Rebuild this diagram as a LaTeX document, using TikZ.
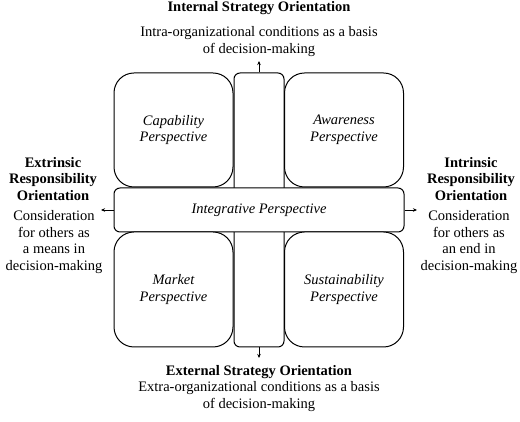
\documentclass[tikz,border=0pt]{standalone}
\usepackage{fontspec}
\setmainfont{Liberation Serif}
\usetikzlibrary{arrows.meta, positioning}

\begin{document}
\begin{tikzpicture}[x=1pt, y=1pt,
    every node/.style={font=\fontsize{14.5}{16.5}\selectfont, align=center, inner sep=0pt},
    persp/.style={draw, line width=1pt, fill=white, rounded corners=20pt, minimum width=119pt, font=\fontsize{14.5}{16.5}\selectfont\itshape},
    bar/.style={draw, line width=1pt, fill=white, rounded corners=6pt},
    orient/.style={font=\fontsize{14.5}{16.5}\selectfont\bfseries},
    outarrow/.style={-{Stealth[length=4pt, width=3.5pt]}, line width=0.8pt}]
\useasboundingbox (0,0) rectangle (520,422);

\node (vbar) [bar, minimum width=50pt, minimum height=274pt] at (259,212) {};
\node (hbar) [bar, minimum width=290pt, minimum height=44pt, font=\fontsize{14.5}{16.5}\selectfont\itshape] at (259,212) {Integrative Perspective};

\node (cap) [persp, minimum height=114pt] at (173.5,292) {Capability\\Perspective};
\node (awa) [persp, minimum height=114pt] at (344,292) {Awareness\\Perspective};
\node (mar) [persp, minimum height=115pt] at (173.5,132.5) {Market\\Perspective};
\node (sus) [persp, minimum height=115pt] at (344,132.5) {Sustainability\\Perspective};

\coordinate (up) at (259,361);
\coordinate (down) at (259,64);
\coordinate (left) at (101,212);
\coordinate (right) at (417,212);
\draw [outarrow] (vbar.north) -- (up);
\draw [outarrow] (vbar.south) -- (down);
\draw [outarrow] (hbar.west) -- (left);
\draw [outarrow] (hbar.east) -- (right);

\node (intT) [orient] at (259,414) {Internal Strategy Orientation};
\node (intS) [font=\fontsize{14.5}{17}\selectfont] at (259,380) {Intra-organizational conditions as a basis\\of decision-making};
\node (extT) [orient] at (259,50) {External Strategy Orientation};
\node (extS) [font=\fontsize{14.5}{17}\selectfont] at (259,25) {Extra-organizational conditions as a basis\\of decision-making};
\node (exrT) [orient] at (53,243) {Extrinsic\\Responsibility\\Orientation};
\node (exrS) at (54,180) {Consideration\\for others as\\a means in\\decision-making};
\node (inrT) [orient] at (471,243) {Intrinsic\\Responsibility\\Orientation};
\node (inrS) at (469,180) {Consideration\\for others as\\an end in\\decision-making};
\end{tikzpicture}
\end{document}
